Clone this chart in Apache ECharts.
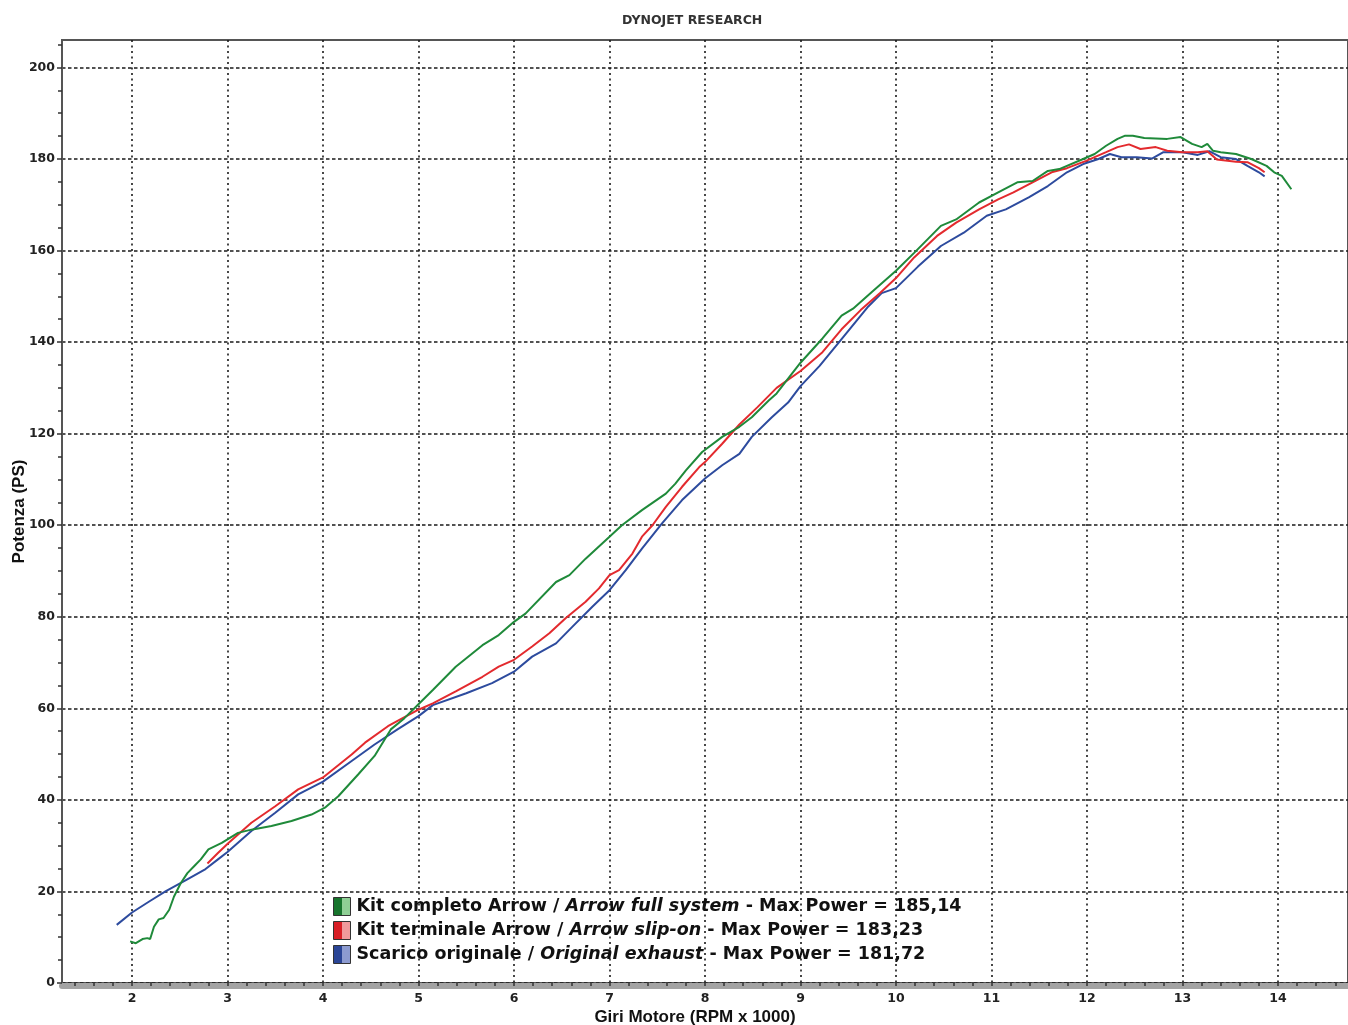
<!DOCTYPE html>
<html><head><meta charset="utf-8">
<script src="https://cdn.jsdelivr.net/npm/echarts@6/dist/echarts.min.js"></script>
<style>html,body{margin:0;padding:0;background:#fff}#c{width:1348px;height:1025px}</style>
</head><body><div id="c"></div>
<script>
// ---- Data (RPM x 1000, PS) ----
const fullRpm = [1.98,2.04,2.11,2.16,2.19,2.23,2.28,2.33,2.39,2.44,2.51,2.58,2.65,2.72,2.80,2.94,3.11,3.25,3.46,3.67,3.88,4.02,4.16,4.37,4.54,4.71,4.85,5.01,5.15,5.39,5.67,5.84,6.00,6.12,6.44,6.58,6.75,7.00,7.13,7.34,7.59,7.69,7.80,7.97,8.18,8.36,8.49,8.67,8.75,9.00,9.23,9.43,9.55,9.75,10.00,10.19,10.47,10.63,10.87,11.07,11.27,11.43,11.59,11.71,11.96,12.08,12.20,12.32,12.40,12.48,12.60,12.84,12.98,13.00,13.10,13.20,13.26,13.32,13.40,13.56,13.72,13.88,13.96,14.04,14.14];
const fullPs  = [9.1,8.7,9.6,9.8,9.6,12.3,13.9,14.2,16.0,18.9,21.8,24.0,25.5,27.0,29.2,30.6,32.8,33.5,34.3,35.4,36.8,38.3,40.8,45.6,49.6,55.4,57.8,61.1,64.0,69.1,73.8,76.0,78.9,80.7,87.6,89.1,92.7,97.5,100.0,103.3,106.9,109.1,112.0,116.0,119.3,121.5,123.6,127.3,128.8,135.5,140.8,145.8,147.3,151.0,155.6,159.5,165.4,166.8,170.5,172.7,174.9,175.2,177.4,177.8,180.0,181.1,182.9,184.4,185.1,185.1,184.6,184.4,184.8,185.1,183.3,182.6,183.3,181.8,181.5,181.1,180.0,178.5,177.1,176.3,173.4];

const slipRpm = [2.79,2.90,3.01,3.25,3.50,3.74,4.00,4.30,4.44,4.68,4.80,5.00,5.15,5.39,5.67,5.84,6.00,6.19,6.37,6.54,6.75,6.89,7.00,7.10,7.24,7.34,7.45,7.59,7.76,7.94,8.00,8.18,8.36,8.55,8.75,9.00,9.23,9.43,9.63,9.83,10.00,10.19,10.43,10.63,10.87,11.07,11.23,11.43,11.63,11.79,11.99,12.20,12.32,12.44,12.56,12.72,12.84,13.00,13.16,13.26,13.36,13.56,13.68,13.80,13.86];
const slipPs  = [26.1,28.4,30.6,35.0,38.6,42.3,44.9,49.9,52.5,56.1,57.5,59.7,61.1,63.7,66.9,69.1,70.6,73.5,76.4,79.7,83.3,86.2,89.1,90.2,93.8,97.5,100.0,104.0,108.4,112.7,113.8,117.8,122.0,125.8,130.0,133.7,137.8,142.8,147.0,150.7,154.0,158.5,163.2,166.1,169.0,171.2,172.7,174.9,177.1,178.0,179.6,181.5,182.6,183.2,182.2,182.6,181.8,181.5,181.5,181.7,179.9,179.4,179.3,178.0,177.1];

const origRpm = [1.84,2.00,2.18,2.35,2.56,2.77,2.90,3.00,3.25,3.50,3.74,4.00,4.30,4.54,4.78,5.00,5.15,5.50,5.77,6.00,6.19,6.44,6.61,6.82,7.00,7.17,7.34,7.55,7.76,8.00,8.18,8.36,8.49,8.70,8.87,9.00,9.20,9.40,9.71,9.85,10.00,10.23,10.47,10.71,10.95,11.15,11.39,11.59,11.79,11.96,12.12,12.24,12.36,12.52,12.68,12.80,13.00,13.16,13.28,13.40,13.56,13.68,13.80,13.86];
const origPs  = [12.7,15.4,17.8,20.0,22.4,24.9,27.0,28.6,33.2,37.2,41.2,44.0,48.5,52.1,55.4,58.3,60.7,63.3,65.5,68.0,71.3,74.2,77.8,82.2,85.8,90.2,94.9,100.4,105.5,110.2,113.1,115.6,119.3,123.6,126.8,130.4,134.8,139.9,147.8,150.7,151.8,156.5,161.0,163.9,167.6,169.0,171.6,174.1,177.1,178.9,180.0,181.1,180.4,180.4,180.1,181.5,181.5,180.9,181.7,180.4,180.0,178.5,177.1,176.2];

const seriesNames = ['Kit completo Arrow', 'Kit terminale Arrow', 'Scarico originale'];
const seriesNamesEn = ['Arrow full system', 'Arrow slip-on', 'Original exhaust'];
const maxPower = ['185,14', '183,23', '181,72'];

const xMajorTicks = [2,3,4,5,6,7,8,9,10,11,12,13,14];
const yMajorTicks = [0,20,40,60,80,100,120,140,160,180,200];

const titleText = 'DYNOJET RESEARCH';
const xName = 'Giri Motore (RPM x 1000)';
const yName = 'Potenza (PS)';

// ---- Build ----
const xMinorTicks = [];
for (let i = 7; i <= 73; i++) xMinorTicks.push(+(i * 0.2).toFixed(1));
const yMinorTicks = [];
for (let v = 0; v <= 205; v += 5) yMinorTicks.push(v);

function pairs(xs, ys) { return xs.map((x, i) => [x, ys[i]]); }

const lineColors = ['#1f8a3a', '#e32a2e', '#2d4b9e'];
const darkSq = ['#17752d', '#d81f26', '#2a4596'];
const lightSq = ['#8fcf95', '#f09a9c', '#8d9bd0'];
const dataSets = [pairs(fullRpm, fullPs), pairs(slipRpm, slipPs), pairs(origRpm, origPs)];

const XMIN = 1.267, XMAX = 14.733, YMAX = 206;
const font = 'DejaVu Sans';

const chart = echarts.init(document.getElementById('c'), null, { renderer: 'canvas' });

const series = [2, 1, 0].map(i => ({
  name: seriesNames[i],
  type: 'line',
  xAxisIndex: 0,
  yAxisIndex: 0,
  data: dataSets[i],
  showSymbol: false,
  symbol: 'none',
  smooth: false,
  lineStyle: { color: lineColors[i], width: 2 },
  itemStyle: { color: lineColors[i] },
  z: 3 + (2 - i),
  animation: false
}));

const legendData = [0, 1, 2].map(i => ({
  name: seriesNames[i],
  icon: 'rect',
  itemStyle: {
    color: new echarts.graphic.LinearGradient(0, 0, 1, 0, [
      { offset: 0, color: darkSq[i] }, { offset: 0.5, color: darkSq[i] },
      { offset: 0.5, color: lightSq[i] }, { offset: 1, color: lightSq[i] }
    ]),
    borderColor: '#333', borderWidth: 1
  }
}));

chart.setOption({
  backgroundColor: '#ffffff',
  animation: false,
  title: {
    text: titleText, left: 622, top: 14, padding: 0,
    textStyle: { fontFamily: font, fontWeight: 'bold', fontSize: 12.5, color: '#333' }
  },
  grid: {
    left: 62, right: 0, top: 40, bottom: 42,
    outerBoundsMode: 'none', containLabel: false,
    show: true, borderColor: '#555', borderWidth: 2, backgroundColor: 'transparent'
  },
  legend: {
    orient: 'vertical', left: 333, top: 897, padding: 0,
    itemWidth: 17, itemHeight: 18, itemGap: 5,
    selectedMode: false,
    data: legendData,
    formatter: function (name) {
      const i = seriesNames.indexOf(name);
      return '{n|' + seriesNames[i] + ' / }{i|' + seriesNamesEn[i] + '}{n| - Max Power = ' + maxPower[i] + '}';
    },
    textStyle: {
      padding: [0, 0, 0, 1],
      rich: {
        n: { fontFamily: font, fontWeight: 'bold', fontSize: 17.5, color: '#111' },
        i: { fontFamily: font, fontWeight: 'bold', fontStyle: 'italic', fontSize: 17.5, color: '#111' }
      }
    }
  },
  xAxis: [
    {
      type: 'value', min: XMIN, max: XMAX, position: 'bottom', offset: 3,
      name: xName, nameLocation: 'middle', nameGap: 23, nameMoveOverlap: false,
      nameTextStyle: { fontFamily: 'Liberation Sans', fontWeight: 'bold', fontSize: 17, color: '#111', padding: [0, 20, 0, 0] },
      axisLine: { show: true, onZero: false, lineStyle: { color: '#a3a3a3', width: 6 } },
      axisTick: { show: false, customValues: xMajorTicks },
      axisLabel: { customValues: xMajorTicks, fontFamily: font, fontWeight: 'bold', fontSize: 12.5, color: '#222', margin: 6 },
      splitLine: { show: true, lineStyle: { color: '#1a1a1a', width: 1.6, type: [2, 3.5] } }
    },
    {
      type: 'value', min: XMIN, max: XMAX, position: 'bottom', offset: 3,
      axisLine: { show: false, onZero: false },
      axisTick: { show: true, customValues: xMinorTicks, length: 4, inside: true, lineStyle: { color: '#333', width: 1.5 } },
      axisLabel: { show: false },
      splitLine: { show: false }
    }
  ],
  yAxis: [
    {
      type: 'value', min: 0, max: YMAX, position: 'left',
      name: yName, nameLocation: 'middle', nameGap: 34, nameMoveOverlap: false,
      nameTextStyle: { fontFamily: 'Liberation Sans', fontWeight: 'bold', fontSize: 17, color: '#111' },
      axisLine: { show: true, onZero: false, lineStyle: { color: '#555', width: 2 } },
      axisTick: { show: true, customValues: yMajorTicks, length: 5, lineStyle: { color: '#333', width: 1.5 } },
      axisLabel: { customValues: yMajorTicks, fontFamily: font, fontWeight: 'bold', fontSize: 12.5, color: '#222', margin: 7 },
      splitLine: { show: true, lineStyle: { color: '#1a1a1a', width: 1.5, type: [3.5, 2.5] } }
    },
    {
      type: 'value', min: 0, max: YMAX, position: 'left',
      axisLine: { show: false, onZero: false },
      axisTick: { show: true, customValues: yMinorTicks, length: 4, lineStyle: { color: '#333', width: 1.5 } },
      axisLabel: { show: false },
      splitLine: { show: false }
    }
  ],
  series: series
});
</script>
</body></html>
